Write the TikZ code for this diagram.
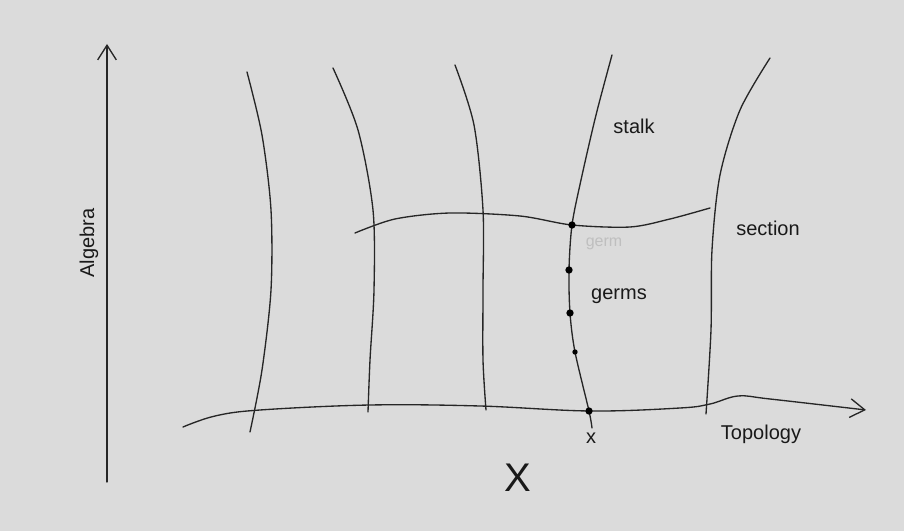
\documentclass[tikz,border=0pt]{standalone}
\usepackage{fontspec}
\setmainfont{Liberation Sans}
\usetikzlibrary{arrows.meta}
\begin{document}
\begin{tikzpicture}[x=0.75pt,y=-0.75pt,
  pen/.style={draw=black!85, line width=1pt, line cap=round},
  tip/.style={-{Straight Barb[length=11pt,width=14pt]}},
  label/.style={font=\fontsize{15}{18}\selectfont, text=black!90, inner sep=0pt},
  germdot/.style={circle, fill=black, inner sep=0pt, minimum width=5.5pt, minimum height=4.5pt}]
\fill[black!14] (0,0) rectangle (904,531);
\useasboundingbox (0,0) rectangle (904,531);
% vertical axis
\draw[pen, tip] (107,482) -- (107,44);
\node[label, rotate=90] (alg) at (89,243) {Algebra};
% horizontal axis
\draw[pen, tip] plot[smooth, tension=0.6] coordinates {(183,427) (215,416) (260,410) (370,405) (480,406) (590,411) (680,408) (710,404) (738,396) (770,399) (866,410)};
\node[label] (top) at (761,434) {Topology};
% stalks
\draw[pen] plot[smooth] coordinates {(247,72) (262,135) (271,210) (271,290) (262,370) (250,432)};
\draw[pen] plot[smooth] coordinates {(333,68) (358,130) (373,210) (374,290) (370,360) (368,412)};
\draw[pen] plot[smooth] coordinates {(455,65) (474,125) (483,210) (483,290) (483,360) (486,410)};
\draw[pen] plot[smooth] coordinates {(612,55) (596,115) (581,180) (572,225) (569,270) (570,313) (575,352) (589,411) (592,428)};
\draw[pen] plot[smooth] coordinates {(770,58) (740,110) (720,175) (712,250) (711,330) (706,414)};
% section
\draw[pen] plot[smooth] coordinates {(355,233) (395,219) (450,213) (520,216) (572,225) (630,227) (670,219) (710,208)};
% germs
\node[germdot] (g1) at (572,225) {};
\node[germdot] (g2) at (569,270) {};
\node[germdot] (g3) at (570,313) {};
\node[germdot, minimum width=4pt, minimum height=3.5pt] (g4) at (575,352) {};
\node[germdot] (g5) at (589,411) {};
% labels
\node[label] (stalk) at (634,126) {stalk};
\node[label] (germs) at (619,296) {germs};
\node[label, text=black!25, font=\fontsize{12}{14}\selectfont] (ghost) at (604,244) {germ};
\node[label] (section) at (768,228) {section};
\node[label] (x) at (591,438) {x};
\node[label, font=\fontsize{30}{32}\selectfont] (X) at (518,478) {X};
\end{tikzpicture}
\end{document}
